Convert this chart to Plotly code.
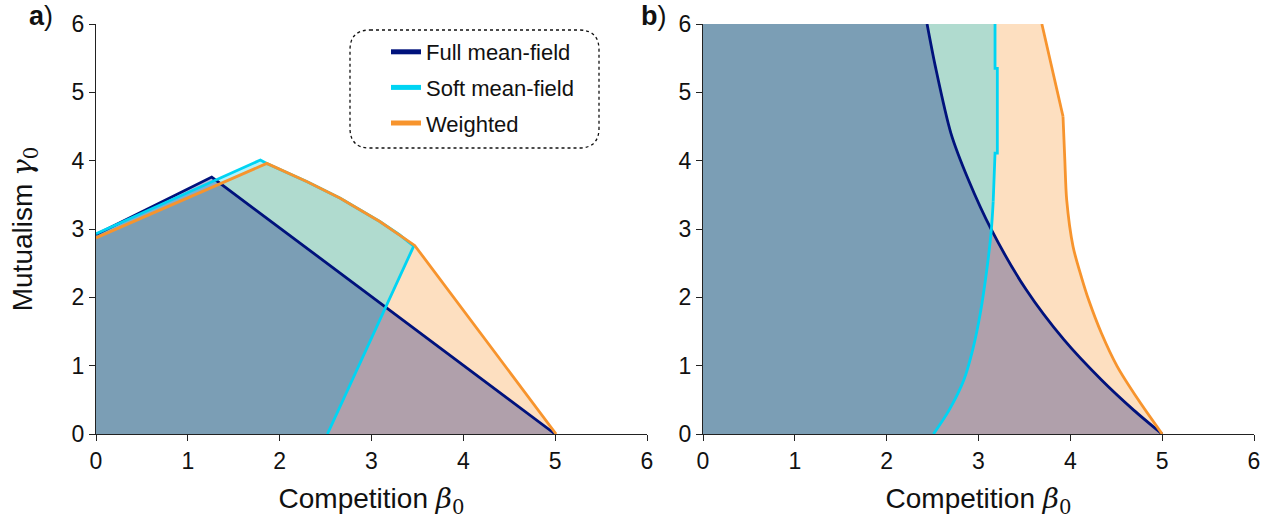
import plotly.graph_objects as go

# ---- Phase boundaries, panel a (competition beta0 -> mutualism gamma0) ----
a_full_beta = [0.0, 1.26, 1.33, 5.0]
a_full_gamma = [2.92, 3.76, 3.69, 0.0]

a_soft_beta = [0.0, 1.79, 1.86, 2.30, 2.66, 3.09, 3.30, 3.46, 2.52]
a_soft_gamma = [2.93, 4.01, 3.96, 3.69, 3.45, 3.11, 2.92, 2.75, 0.0]

a_wtd_beta = [0.0, 1.86, 2.30, 2.66, 3.09, 3.30, 3.47, 5.01]
a_wtd_gamma = [2.87, 3.96, 3.69, 3.45, 3.11, 2.92, 2.76, 0.0]

# ---- Phase boundaries, panel b ----
b_full_beta = [2.44, 2.53, 2.70, 2.89, 3.14, 3.52, 3.93, 4.34, 4.69, 5.0]
b_full_gamma = [6.0, 5.38, 4.40, 3.72, 2.99, 2.11, 1.38, 0.79, 0.35, 0.0]

b_soft_beta = [3.18, 3.18, 3.205, 3.205, 3.18, 3.17, 3.16, 3.14, 3.09, 3.02, 2.94, 2.84, 2.68, 2.51]
b_soft_gamma = [6.0, 5.35, 5.35, 4.11, 4.11, 3.65, 3.40, 2.99, 2.40, 1.77, 1.25, 0.79, 0.35, 0.0]

b_wtd_beta = [3.69, 3.92, 3.94, 3.96, 4.03, 4.12, 4.20, 4.34, 4.51, 4.74, 5.0]
b_wtd_gamma = [6.0, 4.65, 4.01, 3.43, 2.74, 2.30, 1.96, 1.47, 0.99, 0.50, 0.0]

tick_vals = [0, 1, 2, 3, 4, 5, 6]

NAVY = "rgb(0,18,124)"
CYAN = "rgb(0,212,243)"
ORANGE = "rgb(247,148,45)"


def rgba(c, a):
    return c.replace("rgb(", "rgba(").replace(")", f",{a})")


FONT = "Liberation Sans, Arial, Helvetica, sans-serif"
MATH = "DejaVu Serif, Liberation Serif, serif"

fig = go.Figure()

# Filled regions (weighted at the bottom, full mean-field on top)
panels = [
    ("x", "y",
     [0.0] + a_full_beta, [0.0] + a_full_gamma,
     [0.0] + a_soft_beta, [0.0] + a_soft_gamma,
     [0.0] + a_wtd_beta, [0.0] + a_wtd_gamma),
    ("x2", "y2",
     [0.0, 0.0] + b_full_beta, [0.0, 6.0] + b_full_gamma,
     [0.0, 0.0] + b_soft_beta, [0.0, 6.0] + b_soft_gamma,
     [0.0, 0.0] + b_wtd_beta, [0.0, 6.0] + b_wtd_gamma),
]
for xa, ya, fx, fy, sx, sy, wx, wy in panels:
    for px, py, col in [(wx, wy, ORANGE), (sx, sy, CYAN), (fx, fy, NAVY)]:
        fig.add_trace(go.Scatter(x=px, y=py, xaxis=xa, yaxis=ya, mode="lines",
                                 fill="toself", fillcolor=rgba(col, 0.3),
                                 line=dict(width=0), hoverinfo="skip",
                                 showlegend=False))

# Boundary lines: straight pieces are linear, curved pieces are splined
lines = [
    ("x", "y", a_full_beta, a_full_gamma, NAVY, "linear"),
    ("x", "y", a_soft_beta, a_soft_gamma, CYAN, "linear"),
    ("x", "y", a_wtd_beta, a_wtd_gamma, ORANGE, "linear"),
    ("x2", "y2", b_full_beta, b_full_gamma, NAVY, "spline"),
    ("x2", "y2", b_soft_beta[:7], b_soft_gamma[:7], CYAN, "linear"),
    ("x2", "y2", b_soft_beta[6:], b_soft_gamma[6:], CYAN, "spline"),
    ("x2", "y2", b_wtd_beta[:2], b_wtd_gamma[:2], ORANGE, "linear"),
    ("x2", "y2", b_wtd_beta[1:], b_wtd_gamma[1:], ORANGE, "spline"),
]
for xa, ya, lx, ly, col, shape in lines:
    fig.add_trace(go.Scatter(x=lx, y=ly, xaxis=xa, yaxis=ya, mode="lines",
                             line=dict(color=col, width=2.8, shape=shape, smoothing=0.8),
                             showlegend=False))

# Legend entries
for name, col in [("Full mean-field", NAVY), ("Soft mean-field", CYAN), ("Weighted", ORANGE)]:
    fig.add_trace(go.Scatter(x=[None], y=[None], mode="lines", name=name,
                             legendgroup=name, line=dict(color=col, width=5)))

axis_common = dict(range=[0, 6], tickvals=tick_vals, ticks="outside", ticklen=6,
                   tickwidth=1.2, tickcolor="#222", showline=True, linecolor="#222",
                   linewidth=1.2, showgrid=False, zeroline=False, fixedrange=True,
                   automargin=False,
                   tickfont=dict(family=FONT, size=23, color="#111"))

xtitle = dict(text=f"Competition <span style=\"font-family:{MATH}\"><i>β</i><sub>0</sub></span>",
              font=dict(family=FONT, size=28, color="#111"), standoff=15)
ytitle = dict(text=f"Mutualism <span style=\"font-family:{MATH}\"><i>γ</i><sub>0</sub></span>",
              font=dict(family=FONT, size=28, color="#111"), standoff=30)

fig.update_layout(
    width=1274, height=527, autosize=False,
    margin=dict(l=0, r=0, t=0, b=0, autoexpand=False),
    plot_bgcolor="white", paper_bgcolor="white",
    font=dict(family=FONT, color="#111"),
    xaxis=dict(domain=[96 / 1274, 647 / 1274], anchor="y", title=xtitle, **axis_common),
    yaxis=dict(domain=[93 / 527, 503 / 527], anchor="x", title=ytitle, **axis_common),
    xaxis2=dict(domain=[703 / 1274, 1254 / 1274], anchor="y2", title=xtitle, **axis_common),
    yaxis2=dict(domain=[93 / 527, 503 / 527], anchor="x2", **axis_common),
    legend=dict(x=386 / 1274, y=1 - 31 / 527, xanchor="left", yanchor="top",
                bgcolor="rgba(0,0,0,0)", borderwidth=0, tracegroupgap=4,
                font=dict(family=FONT, size=22, color="#111")),
    showlegend=True,
)

# Rounded dotted frame around the legend
x0, x1 = 350 / 1274, 599 / 1274
yt, yb = 1 - 30 / 527, 1 - 148 / 527
rx, ry = 20 / 1274, 20 / 527
path = (f"M{x0 + rx},{yt} L{x1 - rx},{yt} Q{x1},{yt} {x1},{yt - ry} "
        f"L{x1},{yb + ry} Q{x1},{yb} {x1 - rx},{yb} L{x0 + rx},{yb} "
        f"Q{x0},{yb} {x0},{yb + ry} L{x0},{yt - ry} Q{x0},{yt} {x0 + rx},{yt} Z")
fig.add_shape(type="path", path=path, xref="paper", yref="paper",
              line=dict(color="#111", width=1.3, dash="dot"))

# Panel labels
for txt, xp in [("<b>a</b>)", 27), ("<b>b</b>)", 639)]:
    fig.add_annotation(text=txt, xref="paper", yref="paper", x=xp / 1274, y=1 - 16 / 527,
                       xanchor="left", yanchor="middle", showarrow=False,
                       font=dict(family=FONT, size=27, color="#111"))

fig.write_html("out.html")
